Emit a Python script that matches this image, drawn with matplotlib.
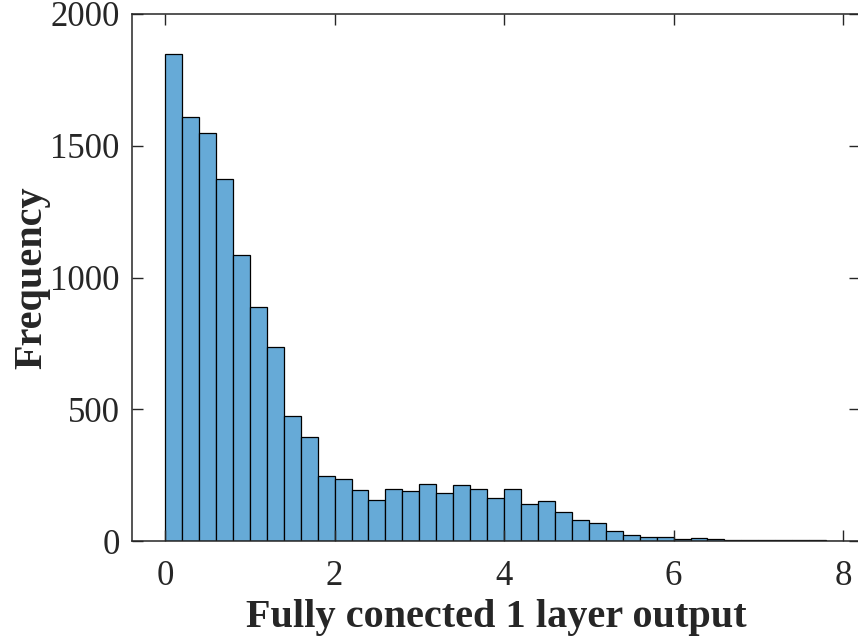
import numpy as np
import matplotlib.pyplot as plt

# histogram of fully connected layer output, bin width 0.2 from 0 to 8
bin_edges = np.round(np.arange(0, 8.01, 0.2), 2)
counts = [1848, 1610, 1549, 1373, 1087, 888, 736, 475, 395, 246,
          237, 193, 157, 196, 191, 215, 184, 211, 196, 165,
          196, 142, 151, 110, 79, 67, 39, 24, 14, 14,
          8, 11, 9, 2, 2, 2, 3, 3, 2, 1]

xticks = [0, 2, 4, 6, 8]
yticks = [0, 500, 1000, 1500, 2000]

plt.rcParams['font.family'] = ['Liberation Serif', 'DejaVu Serif']

fig = plt.figure(figsize=(8.58, 6.43), dpi=100)
ax = fig.add_axes([132 / 858, 1 - 541 / 643, 728 / 858, 527 / 643])

ax.hist(bin_edges[:-1], bins=bin_edges, weights=counts,
        color='#66aad7', edgecolor='black', linewidth=0.9)

ax.set_xlim(-0.39, 8.2)
ax.set_ylim(0, 2000)
ax.set_xticks(xticks)
ax.set_yticks(yticks)
ax.tick_params(direction='in', length=8, width=1, top=True, right=True,
               labelsize=25, colors='#262626')
ax.tick_params(axis='x', pad=14)
ax.tick_params(axis='y', pad=9)
for s in ax.spines.values():
    s.set_color('#262626')
    s.set_linewidth(1.1)

ax.set_xlabel('Fully conected 1 layer output', fontsize=29, fontweight='bold',
              labelpad=4, color='#262626')
ax.set_ylabel('Frequency', fontsize=29, fontweight='bold', labelpad=0,
              color='#262626')

fig.savefig('out.png', dpi=100)
